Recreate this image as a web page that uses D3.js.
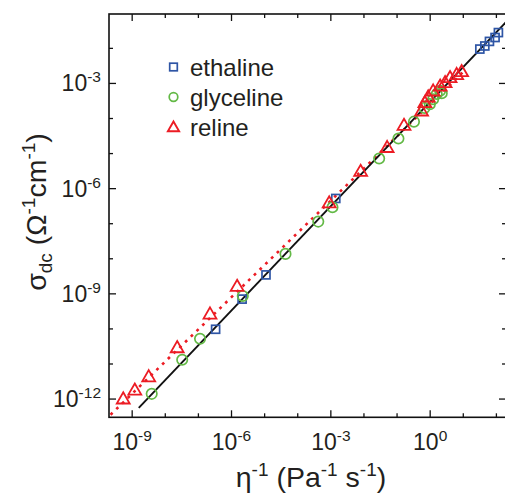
<!DOCTYPE html>
<html>
<head>
<meta charset="utf-8">
<script src="https://cdn.jsdelivr.net/npm/d3@7/dist/d3.min.js"></script>
<style>
  html, body { margin: 0; padding: 0; background: #fff; }
  svg { display: block; }
  text { font-family: "Liberation Sans", Arial, sans-serif; fill: #231f20; }
</style>
</head>
<body>
<svg id="chart" width="505" height="495"></svg>
<script>
// ---- data ----
const ethalineEta   = [3.31e-7, 2.09e-6, 1.10e-5, 1.41e-3, 31.6, 44.7, 61.7, 91.2, 115];
const ethalineSigma = [9.77e-11, 7.08e-10, 3.47e-9, 5.25e-7, 9.55e-3, 1.17e-2, 1.58e-2, 2.04e-2, 2.82e-2];

const glycelineEta   = [3.89e-9, 3.24e-8, 1.12e-7, 2.19e-6, 4.27e-5, 4.17e-4, 1.12e-3, 2.88e-2, 0.110, 0.324, 0.676, 0.977, 1.23, 1.58, 2.00, 2.24];
const glycelineSigma = [1.41e-12, 1.32e-11, 5.25e-11, 8.71e-10, 1.38e-8, 1.15e-7, 2.95e-7, 7.24e-6, 2.69e-5, 8.13e-5, 2.0e-4, 2.57e-4, 3.55e-4, 5.01e-4, 6.17e-4, 5.25e-4];

const relineEta   = [5.37e-10, 1.20e-9, 3.16e-9, 2.29e-8, 2.24e-7, 1.48e-6, 8.91e-4, 7.94e-3, 5.01e-2, 0.162, 0.550, 0.692, 0.871, 1.23, 2.00, 2.82, 3.98, 6.31, 8.91];
const relineSigma = [1.02e-12, 1.82e-12, 4.37e-12, 2.95e-11, 2.69e-10, 1.66e-9, 3.98e-7, 3.16e-6, 1.51e-5, 6.46e-5, 1.66e-4, 2.88e-4, 4.17e-4, 6.17e-4, 8.51e-4, 1.07e-3, 1.48e-3, 1.82e-3, 2.19e-3];

// power-law fits: sigma = A * eta^n
const fitAllA = 3.02e-4, fitAllN = 0.992, fitAllRange = [1.58e-9, 300];
const fitRelineA = 2.60e-4, fitRelineN = 0.918, fitRelineRange = [1e-10, 10];

const xMajorExp = [-9, -6, -3, 0];
const yMajorExp = [-12, -9, -6, -3];
const legendLabels = ["ethaline", "glyceline", "reline"];

// ---- layout ----
const svg = d3.select("#chart");
const L = 109, R = 506, T = 14, B = 417.3;
const x = d3.scaleLog().domain([Math.pow(10, -9.70), Math.pow(10, 2.29)]).range([L, R]);
const y = d3.scaleLog().domain([Math.pow(10, -12.52), Math.pow(10, -1.02)]).range([B, T]);

const blue = "#2e55a5", green = "#63b946", red = "#ec1c24";

svg.append("defs").append("clipPath").attr("id", "plotclip")
  .append("rect").attr("x", L).attr("y", T).attr("width", R - L).attr("height", B - T);

const plot = svg.append("g").attr("clip-path", "url(#plotclip)");

// fits
const lineGen = d3.line().x(d => x(d[0])).y(d => y(d[1]));
const fitAll = fitAllRange.map(e => [e, fitAllA * Math.pow(e, fitAllN)]);
const fitRel = fitRelineRange.map(e => [e, fitRelineA * Math.pow(e, fitRelineN)]);

plot.append("path").datum(fitRel).attr("d", lineGen)
  .attr("fill", "none").attr("stroke", red).attr("stroke-width", 2.6)
  .attr("stroke-dasharray", "2.8,5.2");
plot.append("path").datum(fitAll).attr("d", lineGen)
  .attr("fill", "none").attr("stroke", "#111").attr("stroke-width", 1.9);

// markers
function squares(g, xs, ys, s) {
  g.selectAll(null).data(xs.map((v, i) => [v, ys[i]])).enter().append("rect")
    .attr("x", d => x(d[0]) - s / 2).attr("y", d => y(d[1]) - s / 2)
    .attr("width", s).attr("height", s)
    .attr("fill", "none").attr("stroke", blue).attr("stroke-width", 1.7);
}
function circles(g, xs, ys, r) {
  g.selectAll(null).data(xs.map((v, i) => [v, ys[i]])).enter().append("circle")
    .attr("cx", d => x(d[0])).attr("cy", d => y(d[1])).attr("r", r)
    .attr("fill", "none").attr("stroke", green).attr("stroke-width", 1.7);
}
const triSym = d3.symbol().type(d3.symbolTriangle);
function triangles(g, xs, ys, size) {
  g.selectAll(null).data(xs.map((v, i) => [v, ys[i]])).enter().append("path")
    .attr("d", triSym.size(size)())
    .attr("transform", d => `translate(${x(d[0])},${y(d[1]) + 1})`)
    .attr("fill", "none").attr("stroke", red).attr("stroke-width", 1.8);
}
squares(plot, ethalineEta, ethalineSigma, 8);
circles(plot, glycelineEta, glycelineSigma, 5.2);
triangles(plot, relineEta, relineSigma, 72);

// ---- frame and ticks ----
const axes = svg.append("g");
axes.append("rect").attr("x", L).attr("y", T).attr("width", R - L).attr("height", B - T)
  .attr("fill", "none").attr("stroke", "#111").attr("stroke-width", 1.6);

const xMinor = d3.range(-9, 3).map(e => Math.pow(10, e));
const yMinor = d3.range(-12, -1).map(e => Math.pow(10, e));
const isMajorX = v => xMajorExp.some(e => Math.abs(Math.log10(v) - e) < 1e-6);
const isMajorY = v => yMajorExp.some(e => Math.abs(Math.log10(v) - e) < 1e-6);

xMinor.forEach(v => {
  const len = isMajorX(v) ? 7 : 4;
  const px = x(v);
  axes.append("line").attr("x1", px).attr("x2", px).attr("y1", B).attr("y2", B - len)
    .attr("stroke", "#111").attr("stroke-width", 1.3);
  axes.append("line").attr("x1", px).attr("x2", px).attr("y1", T).attr("y2", T + len)
    .attr("stroke", "#111").attr("stroke-width", 1.3);
});
yMinor.forEach(v => {
  const len = isMajorY(v) ? 7 : 4;
  const py = y(v);
  axes.append("line").attr("x1", L).attr("x2", L + len).attr("y1", py).attr("y2", py)
    .attr("stroke", "#111").attr("stroke-width", 1.3);
  axes.append("line").attr("x1", R).attr("x2", R - len).attr("y1", py).attr("y2", py)
    .attr("stroke", "#111").attr("stroke-width", 1.3);
});

// tick labels
const tickFont = 23, supFont = 15.5;
xMajorExp.forEach(e => {
  const t = axes.append("text").attr("x", x(Math.pow(10, e))).attr("y", 450)
    .attr("text-anchor", "middle").attr("font-size", tickFont);
  t.append("tspan").text("10");
  t.append("tspan").attr("font-size", supFont).attr("dy", -9).text(e === 0 ? "0" : "-" + Math.abs(e));
});
yMajorExp.forEach(e => {
  const t = axes.append("text").attr("x", 101).attr("y", y(Math.pow(10, e)) + 8)
    .attr("text-anchor", "end").attr("font-size", tickFont);
  t.append("tspan").text("10");
  t.append("tspan").attr("font-size", supFont).attr("dy", -9).text("-" + Math.abs(e));
});

// axis titles
const titleFont = 28.5, titleSup = 19;
const xt = svg.append("text").attr("x", 311).attr("y", 487).attr("text-anchor", "middle")
  .attr("font-size", titleFont);
xt.append("tspan").text("\u03B7");
xt.append("tspan").attr("font-size", titleSup).attr("dy", -11).text("-1");
xt.append("tspan").attr("dy", 11).text(" (Pa");
xt.append("tspan").attr("font-size", titleSup).attr("dy", -11).text("-1");
xt.append("tspan").attr("dy", 11).text(" s");
xt.append("tspan").attr("font-size", titleSup).attr("dy", -11).text("-1");
xt.append("tspan").attr("dy", 11).text(")");

const yt = svg.append("text").attr("transform", "translate(46,212) rotate(-90)")
  .attr("text-anchor", "middle").attr("font-size", titleFont);
yt.append("tspan").text("\u03C3");
yt.append("tspan").attr("font-size", titleSup).attr("dy", 6).text("dc");
yt.append("tspan").attr("dy", -6).text(" (\u03A9");
yt.append("tspan").attr("font-size", titleSup).attr("dy", -11).text("-1");
yt.append("tspan").attr("dy", 11).text("cm");
yt.append("tspan").attr("font-size", titleSup).attr("dy", -11).text("-1");
yt.append("tspan").attr("dy", 11).text(")");

// ---- legend ----
const legY = [67, 97, 127];
const leg = svg.append("g");
leg.append("rect").attr("x", 173.5 - 3.8).attr("y", legY[0] - 3.8).attr("width", 7.6).attr("height", 7.6)
  .attr("fill", "none").attr("stroke", blue).attr("stroke-width", 1.7);
leg.append("circle").attr("cx", 173.5).attr("cy", legY[1]).attr("r", 4.3)
  .attr("fill", "none").attr("stroke", green).attr("stroke-width", 1.7);
leg.append("path").attr("d", triSym.size(55)())
  .attr("transform", `translate(173.5,${legY[2] + 1})`)
  .attr("fill", "none").attr("stroke", red).attr("stroke-width", 1.9);
legendLabels.forEach((lab, i) => {
  leg.append("text").attr("x", 190).attr("y", legY[i] + 8.5).attr("font-size", 24).text(lab);
});
</script>
</body>
</html>
